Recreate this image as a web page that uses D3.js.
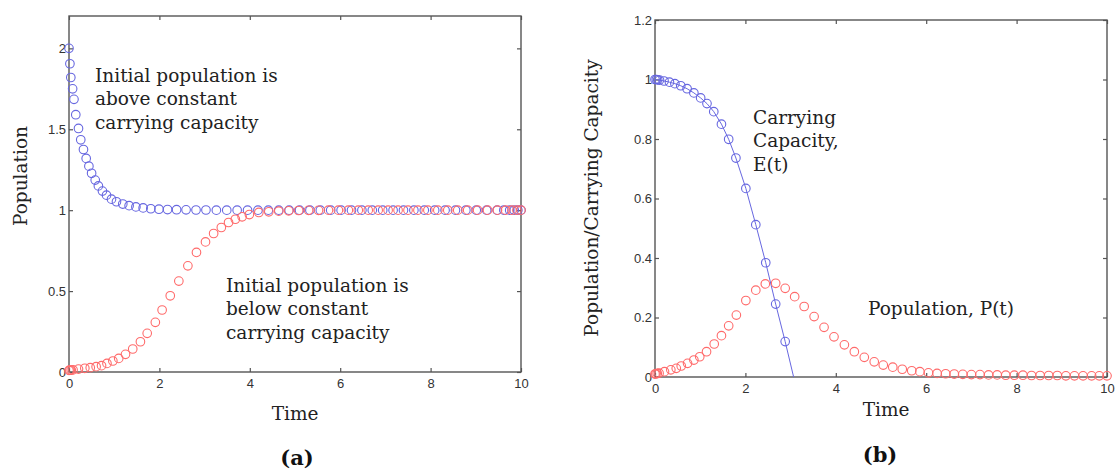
<!DOCTYPE html>
<html>
<head>
<meta charset="utf-8">
<script src="https://cdn.jsdelivr.net/npm/d3@7"></script>
<style>
  body { margin: 0; background: #fff; }
  .tick text { font-family: "Liberation Sans", Arial, sans-serif; font-size: 13px; fill: #333; }
  .tick line { stroke: #555; stroke-width: 1.2; }
  .lbl { font-family: "DejaVu Serif", serif; font-size: 18.5px; fill: #222; }
  .cap { font-family: "DejaVu Serif", serif; font-size: 21px; font-weight: bold; fill: #111; }
</style>
</head>
<body>
<script>
// ---- data ----
// panel (a): logistic growth, constant carrying capacity
var timeAbove = [0, 0.02, 0.04, 0.08, 0.11, 0.15, 0.21, 0.26, 0.32, 0.38, 0.44, 0.50, 0.58, 0.65, 0.74, 0.83, 0.94, 1.05, 1.19,
  1.33, 1.48, 1.64, 1.81, 1.99, 2.18, 2.38, 2.59, 2.81, 3.03,
  3.26, 3.49, 3.72, 3.95, 4.18, 4.41, 4.64, 4.87, 5.10, 5.33, 5.56, 5.79, 6.02, 6.25, 6.48, 6.71, 6.94, 7.17, 7.40, 7.63,
  7.86, 8.09, 8.32, 8.55, 8.78, 9.01, 9.24, 9.47, 9.62, 9.75, 9.85, 9.93, 10];
var popAbove = [2.0, 1.905, 1.82, 1.75, 1.685, 1.59, 1.505, 1.435, 1.375, 1.32, 1.272, 1.228, 1.186, 1.15, 1.118, 1.093, 1.068, 1.052, 1.038,
  1.028, 1.02, 1.014, 1.009, 1.006, 1.004, 1.003, 1.002, 1.001, 1.001,
  1, 1, 1, 1, 1, 1, 1, 1, 1, 1, 1, 1, 1, 1, 1, 1, 1, 1, 1, 1,
  1, 1, 1, 1, 1, 1, 1, 1, 1, 1, 1, 1, 1];

var timeBelow = [0, 0.02, 0.05, 0.09, 0.21, 0.35, 0.47, 0.60, 0.72, 0.84, 0.97, 1.10, 1.25, 1.41, 1.58, 1.73, 1.91, 2.06, 2.24, 2.43,
  2.63, 2.82, 3.02, 3.20, 3.37, 3.53, 3.68, 3.83, 3.99, 4.20, 4.42, 4.64, 4.86, 5.08, 5.30, 5.52,
  5.74, 5.96, 6.18, 6.40, 6.62, 6.84, 7.06, 7.28, 7.50, 7.72, 7.94, 8.16, 8.38, 8.60, 8.82, 9.04, 9.26, 9.48, 9.66, 9.80, 9.91, 10];
var popBelow = [0.01, 0.011, 0.012, 0.013, 0.018, 0.023, 0.027, 0.033, 0.039, 0.053, 0.068, 0.084, 0.109, 0.142, 0.187, 0.239, 0.307, 0.383, 0.471, 0.562,
  0.656, 0.739, 0.804, 0.856, 0.893, 0.924, 0.944, 0.959, 0.973, 0.986, 0.99, 0.994, 0.996, 0.998, 0.999, 0.999,
  1, 1, 1, 1, 1, 1, 1, 1, 1, 1, 1, 1, 1, 1, 1, 1, 1, 1, 1, 1, 1, 1];

// panel (b): declining carrying capacity E(t) and population P(t)
var timeCap = [0, 0.03, 0.06, 0.1, 0.2, 0.32, 0.44, 0.57, 0.71, 0.86, 1.01, 1.15, 1.30, 1.47, 1.63, 1.79, 2.01, 2.23, 2.45, 2.67, 2.88, 3.13];
var capE = [1.0, 1.0, 0.999, 0.998, 0.995, 0.991, 0.986, 0.979, 0.969, 0.955, 0.938, 0.919, 0.892, 0.850, 0.799, 0.736, 0.634, 0.512, 0.384, 0.245, 0.119, -0.04];

var timePop = [0, 0.02, 0.05, 0.09, 0.21, 0.35, 0.47, 0.58, 0.72, 0.86, 0.99, 1.14, 1.31, 1.47, 1.63, 1.80, 2.01, 2.23, 2.44, 2.67,
  2.88, 3.09, 3.30, 3.52, 3.74, 3.96, 4.19, 4.41, 4.63, 4.85, 5.05, 5.26, 5.47, 5.68, 5.86, 6.05,
  6.24, 6.43, 6.62, 6.81, 7.00, 7.19, 7.38, 7.57, 7.76, 7.95, 8.14, 8.33, 8.52, 8.71, 8.90, 9.09, 9.28, 9.47, 9.66, 9.83, 10];
var popP = [0.010, 0.011, 0.012, 0.013, 0.018, 0.024, 0.029, 0.037, 0.046, 0.057, 0.068, 0.085, 0.111, 0.139, 0.172, 0.208, 0.257, 0.292, 0.313, 0.315,
  0.298, 0.270, 0.237, 0.203, 0.167, 0.135, 0.108, 0.085, 0.066, 0.051, 0.040, 0.033, 0.026, 0.021, 0.018, 0.014,
  0.012, 0.011, 0.010, 0.009, 0.008, 0.008, 0.007, 0.007, 0.006, 0.006, 0.006, 0.005, 0.005, 0.005, 0.005, 0.004, 0.004, 0.004, 0.004, 0.004, 0.004];

var xTicks = [0, 2, 4, 6, 8, 10];
var yTicksA = [0, 0.5, 1, 1.5, 2];
var yTicksB = [0, 0.2, 0.4, 0.6, 0.8, 1, 1.2];

var blue = "#6767e0", red = "#ff6a6a";

var svg = d3.select("body").append("svg")
  .attr("width", 1115)
  .attr("height", 473);

// draws one framed matlab-style axes box and returns the scales
function makePanel(id, left, right, top, bottom, yMax, yTicks) {
  var x = d3.scaleLinear().domain([0, 10]).range([left, right]);
  var y = d3.scaleLinear().domain([0, yMax]).range([bottom, top]);

  svg.append("clipPath").attr("id", id)
    .append("rect").attr("x", left).attr("y", top).attr("width", right - left).attr("height", bottom - top);

  var fmt = function(d) { return String(d); };
  // ticks point inward, labels only on left and bottom
  svg.append("g").attr("transform", "translate(0," + bottom + ")")
    .call(d3.axisBottom(x).tickValues(xTicks).tickFormat(fmt).tickSizeInner(-4).tickSizeOuter(0).tickPadding(7));
  svg.append("g").attr("transform", "translate(" + left + ",0)")
    .call(d3.axisLeft(y).tickValues(yTicks).tickFormat(fmt).tickSizeInner(-4).tickSizeOuter(0).tickPadding(3));
  svg.append("g").attr("transform", "translate(0," + top + ")")
    .call(d3.axisTop(x).tickValues(xTicks).tickFormat("").tickSizeInner(-4).tickSizeOuter(0));
  svg.append("g").attr("transform", "translate(" + right + ",0)")
    .call(d3.axisRight(y).tickValues(yTicks).tickFormat("").tickSizeInner(-4).tickSizeOuter(0));
  svg.selectAll(".domain").remove();

  svg.append("rect")
    .attr("x", left).attr("y", top)
    .attr("width", right - left).attr("height", bottom - top)
    .attr("fill", "none").attr("stroke", "#555").attr("stroke-width", 1.4);

  return {x: x, y: y};
}

function circles(p, ts, vs, color) {
  var pts = ts.map(function(t, i) { return [t, vs[i]]; })
    .filter(function(d) { return d[1] >= p.y.domain()[0]; });
  svg.append("g").selectAll("circle")
    .data(pts)
    .enter().append("circle")
      .attr("cx", function(d) { return p.x(d[0]); })
      .attr("cy", function(d) { return p.y(d[1]); })
      .attr("r", 4.3)
      .attr("fill", "none")
      .attr("stroke", color)
      .attr("stroke-width", 1.1);
}

function label(x, y, lines, anchor) {
  var t = svg.append("text").attr("class", "lbl").attr("x", x).attr("y", y).attr("text-anchor", anchor || "start");
  lines.forEach(function(s, i) {
    t.append("tspan").attr("x", x).attr("dy", i ? 23.3 : 0).text(s);
  });
}

// ---- panel (a) ----
var pa = makePanel("clipA", 69, 521, 16, 372, 2.2, yTicksA);
circles(pa, timeAbove, popAbove, blue);
circles(pa, timeBelow, popBelow, red);

label(95, 82, ["Initial population is", "above constant", "carrying capacity"]);
label(226, 292, ["Initial population is", "below constant", "carrying capacity"]);
label(295, 420, ["Time"], "middle");
svg.append("text").attr("class", "lbl")
  .attr("transform", "translate(27,176) rotate(-90)")
  .attr("text-anchor", "middle").text("Population");
svg.append("text").attr("class", "cap").attr("x", 297).attr("y", 465).attr("text-anchor", "middle").text("(a)");

// ---- panel (b) ----
var pb = makePanel("clipB", 655, 1107, 20, 377, 1.2, yTicksB);

var capLine = d3.line()
  .x(function(d, i) { return pb.x(timeCap[i]); })
  .y(function(d) { return pb.y(d); });
svg.append("path")
  .attr("d", capLine(capE))
  .attr("clip-path", "url(#clipB)")
  .attr("fill", "none")
  .attr("stroke", blue)
  .attr("stroke-width", 1);
circles(pb, timeCap, capE, blue);
circles(pb, timePop, popP, red);

label(753, 124, ["Carrying", "Capacity,", "E(t)"]);
label(868, 315, ["Population, P(t)"]);
label(886, 416, ["Time"], "middle");
svg.append("text").attr("class", "lbl")
  .attr("transform", "translate(598,198) rotate(-90)")
  .attr("text-anchor", "middle").text("Population/Carrying Capacity");
svg.append("text").attr("class", "cap").attr("x", 880).attr("y", 462).attr("text-anchor", "middle").text("(b)");
</script>
</body>
</html>
